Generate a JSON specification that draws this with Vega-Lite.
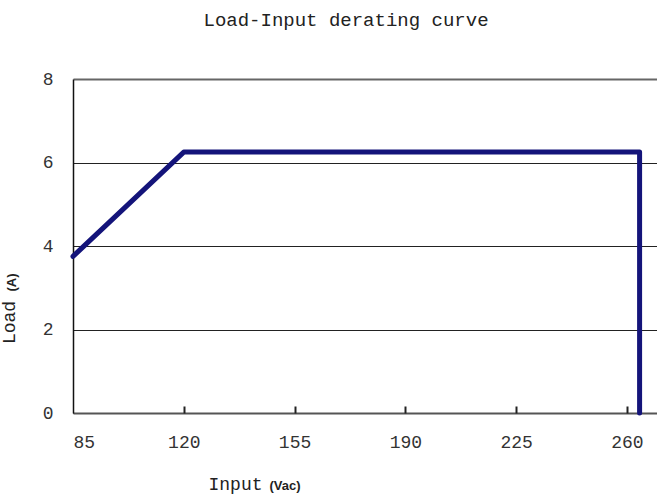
{
  "$schema": "https://vega.github.io/schema/vega-lite/v6.json",
  "width": 584,
  "height": 334,
  "autosize": {"type": "none"},
  "padding": {"left": 73, "top": 79, "right": 0, "bottom": 83},
  "background": "white",
  "title": {
    "text": "Load-Input derating curve",
    "font": "Liberation Mono",
    "fontSize": 19,
    "fontWeight": "normal",
    "color": "#222",
    "anchor": "middle",
    "dx": -19,
    "offset": 40
  },
  "data": {
    "values": [
      {"i": 1, "input": 85, "load": 3.75},
      {"i": 2, "input": 120, "load": 6.25},
      {"i": 3, "input": 264, "load": 6.25},
      {"i": 4, "input": 264, "load": 0}
    ]
  },
  "layer": [
    {
      "mark": {
        "type": "line",
        "color": "#14147a",
        "strokeWidth": 5,
        "strokeCap": "round",
        "strokeJoin": "round",
        "clip": false
      },
      "encoding": {
        "x": {
          "field": "input",
          "type": "quantitative",
          "scale": {"domain": [85, 269.5], "nice": false, "zero": false},
          "axis": {
            "orient": "bottom",
            "values": [85, 120, 155, 190, 225, 260],
            "title": "Input",
            "grid": false,
            "domainColor": "#555",
            "domainWidth": 2,
            "ticks": false,
            "labelPadding": 20,
            "labelFont": "Liberation Mono",
            "labelFontSize": 18,
            "labelColor": "#333",
            "titleFont": "Liberation Mono",
            "titleFontSize": 18,
            "titleFontWeight": "normal",
            "titleColor": "#222",
            "titleAlign": "left",
            "titleBaseline": "alphabetic",
            "titleX": 135,
            "titleY": 76
          }
        },
        "y": {
          "field": "load",
          "type": "quantitative",
          "scale": {"domain": [0, 8], "nice": false},
          "axis": {
            "orient": "left",
            "values": [0, 2, 4, 6, 8],
            "title": "Load",
            "ticks": false,
            "domainColor": "#111",
            "domainWidth": 1.5,
            "grid": true,
            "gridColor": {"condition": {"test": "datum.value === 8", "value": "#666"}, "value": "#222"},
            "gridWidth": {"condition": {"test": "datum.value === 8", "value": 2}, "value": 1},
            "gridOpacity": 1,
            "labelPadding": 20,
            "labelFont": "Liberation Mono",
            "labelFontSize": 18,
            "labelColor": "#333",
            "titleFont": "Liberation Mono",
            "titleFontSize": 18,
            "titleFontWeight": "normal",
            "titleColor": "#222",
            "titleAlign": "center",
            "titleX": -55,
            "titleY": 243
          }
        },
        "order": {"field": "i"}
      }
    },
    {
      "mark": {"type": "point", "opacity": 0},
      "encoding": {
        "x": {
          "field": "input",
          "type": "quantitative",
          "scale": {"domain": [85, 269.5], "nice": false, "zero": false},
          "axis": {
            "orient": "bottom",
            "values": [120, 155, 190, 225, 260],
            "offset": -7,
            "labels": false,
            "ticks": true,
            "tickSize": 7,
            "tickColor": "#222",
            "tickWidth": 2,
            "tickOpacity": 1,
            "domain": false,
            "grid": false,
            "title": "(Vac)",
            "titleFont": "Liberation Sans",
            "titleFontSize": 13,
            "titleFontWeight": "bold",
            "titleColor": "#222",
            "titleAlign": "left",
            "titleBaseline": "alphabetic",
            "titleX": 196,
            "titleY": 83
          }
        },
        "y": {
          "field": "load",
          "type": "quantitative",
          "scale": {"domain": [0, 8], "nice": false},
          "axis": {
            "orient": "left",
            "labels": false,
            "ticks": false,
            "domain": false,
            "grid": false,
            "title": "(A)",
            "titleFont": "Liberation Sans",
            "titleFontSize": 13,
            "titleFontWeight": "bold",
            "titleColor": "#222",
            "titleAlign": "center",
            "titleX": -55,
            "titleY": 203
          }
        }
      }
    }
  ],
  "resolve": {"axis": {"x": "independent", "y": "independent"}},
  "config": {"view": {"stroke": null}}
}
